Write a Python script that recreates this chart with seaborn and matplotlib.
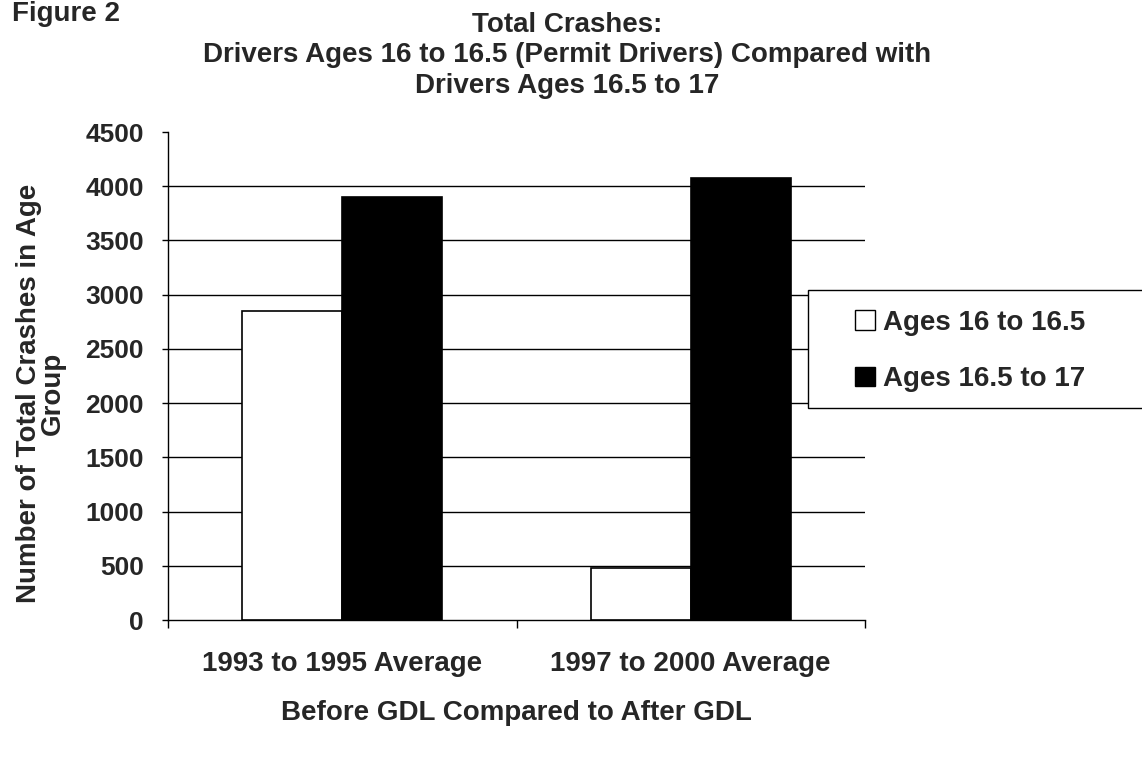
import matplotlib
matplotlib.use("Agg")
import matplotlib.pyplot as plt
import seaborn as sns
import pandas as pd
from matplotlib.patches import Patch, Rectangle

periods = ["1993 to 1995 Average", "1997 to 2000 Average"]
groups = ["Ages 16 to 16.5", "Ages 16.5 to 17"]
ages_16_to_165 = [2850, 480]
ages_165_to_17 = [3900, 4080]
yticks = [0, 500, 1000, 1500, 2000, 2500, 3000, 3500, 4000, 4500]

df = pd.DataFrame({
    "period": periods * 2,
    "group": [groups[0]] * 2 + [groups[1]] * 2,
    "value": ages_16_to_165 + ages_165_to_17,
})

sns.set_style("white")
plt.rcParams['font.family'] = ['Liberation Sans', 'DejaVu Sans']
plt.rcParams['font.weight'] = 'bold'

W, H = 1142, 757
fig = plt.figure(figsize=(W / 100, H / 100), dpi=100)
ax = fig.add_axes([168 / W, 1 - 620 / H, (865 - 168) / W, (620 - 132) / H])

sns.barplot(data=df, x="period", y="value", hue="group", order=periods,
            hue_order=groups, palette=["white", "black"], width=0.574,
            edgecolor="black", linewidth=1.2, ax=ax, legend=False, zorder=3)

ax.set_ylim(0, 4500)
ax.set_xlim(-0.5, 1.5)
ax.set_yticks(yticks)
ax.set_yticklabels([str(t) for t in yticks], fontsize=19, fontweight='bold')
for t in yticks[1:-1]:
    ax.axhline(t, color="black", linewidth=1.0, zorder=1)

ax.set_xticks([-0.5, 0.5, 1.5], minor=False)
ax.set_xticklabels([])
ax.set_xticks([0, 1], minor=True)
ax.set_xticklabels(periods, minor=True, fontsize=20, fontweight='bold')
ax.tick_params(axis='x', which='major', direction='out', length=6, width=1, color='black', bottom=True)
ax.tick_params(axis='x', which='minor', length=0, pad=22)
ax.tick_params(axis='y', direction='out', length=4.5, width=1, color='black', left=True, pad=13)

for s in ["top", "right"]:
    ax.spines[s].set_visible(False)
for s in ["left", "bottom"]:
    ax.spines[s].set_color("black")
    ax.spines[s].set_linewidth(1.0)

ax.set_xlabel("Before GDL Compared to After GDL", fontsize=20, fontweight='bold', labelpad=17)
ax.set_ylabel("Number of Total Crashes in Age\nGroup", fontsize=20, fontweight='bold',
              linespacing=0.9)
ax.yaxis.set_label_coords((66 - 168) / (865 - 168), (620 - 393) / (620 - 132))

fig.text(567 / W, 1 - 12 / H,
         "Total Crashes:\nDrivers Ages 16 to 16.5 (Permit Drivers) Compared with\nDrivers Ages 16.5 to 17",
         ha='center', va='top', fontsize=20, fontweight='bold', linespacing=1.22)
fig.text(12 / W, 1 - 1 / H, "Figure 2", ha='left', va='top', fontsize=20, fontweight='bold')

frame = Rectangle((808 / W, 1 - 408 / H), (1160 - 808) / W, (408 - 290) / H,
                  transform=fig.transFigure, facecolor='white', edgecolor='black',
                  linewidth=1.0, zorder=5, clip_on=False)
fig.add_artist(frame)

handles = [Patch(facecolor="white", edgecolor="black", label=groups[0]),
           Patch(facecolor="black", edgecolor="black", label=groups[1])]
leg = fig.legend(handles=handles, loc='center left',
                 bbox_to_anchor=(855 / W, 1 - 351 / H),
                 frameon=False, handlelength=0.72, handleheight=0.72,
                 handletextpad=0.3, labelspacing=1.1, borderpad=0.0,
                 borderaxespad=0.0,
                 prop={'weight': 'bold', 'size': 20, 'family': ['Liberation Sans', 'DejaVu Sans']})
leg.set_zorder(6)

fig.savefig("out.png", dpi=100)
